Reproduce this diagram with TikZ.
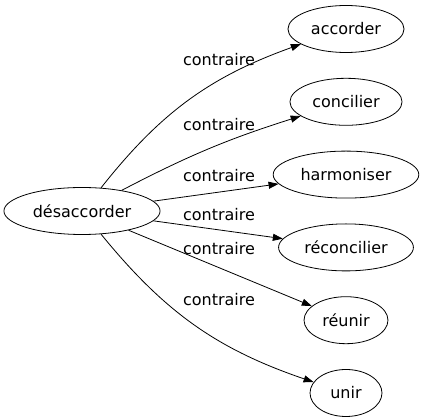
\documentclass[tikz,border=0pt]{standalone}
\usepackage{fontspec}
\setmainfont{DejaVu Sans}
\usetikzlibrary{shapes.geometric}
\usetikzlibrary{positioning}
\usetikzlibrary{arrows.meta}
\tikzset{word/.style={draw,ellipse,minimum height=47pt,minimum width=72pt,inner xsep=6pt,
                      font=\fontsize{16}{19}\selectfont},
         relation/.style={font=\fontsize{16}{19}\selectfont,inner sep=0pt},
         contra/.style={-{Triangle[length=10pt,width=7pt]}},
         }

\begin{document}
\begin{tikzpicture}[x=1pt,y=1pt,node distance=25pt,line width=0.8pt]
\useasboundingbox (0,0) rectangle (424,-419);
\node[word] (desaccorder) at (82,-211) {désaccorder};
\node[word] (accorder) at (346,-29) {accorder};
\node[word,below=of accorder] (concilier) {concilier};
\node[word,below=of concilier] (harmoniser) {harmoniser};
\node[word,below=of harmoniser] (reconcilier) {réconcilier};
\node[word,below=of reconcilier] (reunir) {réunir};
\node[word,below=of reunir] (unir) {unir};
\draw[contra] (desaccorder) to[bend left=16] (accorder);
\draw[contra] (desaccorder) to[bend left=5] (concilier);
\draw[contra] (desaccorder) -- (harmoniser);
\draw[contra] (desaccorder) -- (reconcilier);
\draw[contra] (desaccorder) -- (reunir);
\draw[contra] (desaccorder) to[bend right=16] (unir);
\node[relation] (r1) at (219,-60) {contraire};
\node[relation] (r2) at (219,-125) {contraire};
\node[relation] (r3) at (219,-176) {contraire};
\node[relation] (r4) at (219,-215) {contraire};
\node[relation] (r5) at (219,-249) {contraire};
\node[relation] (r6) at (219,-300) {contraire};
\end{tikzpicture}
\end{document}
